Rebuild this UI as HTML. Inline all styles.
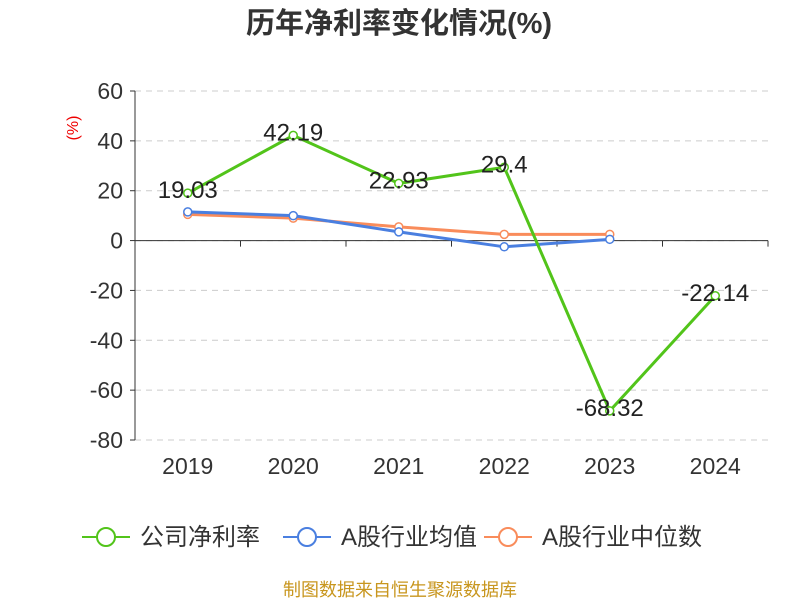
<!DOCTYPE html>
<html><head><meta charset="utf-8"><style>
body{margin:0;background:#fff;width:800px;height:600px;overflow:hidden;font-family:"Liberation Sans","Noto Sans CJK SC",sans-serif}
</style></head><body>
<svg id="c" width="800" height="600" xmlns="http://www.w3.org/2000/svg"></svg>
<script>
const categories=["2019","2020","2021","2022","2023","2024"];
const companyValues=[19.03,42.19,22.93,29.4,-68.32,-22.14];
const avgValues=[11.5,10,3.5,-2.5,0.5,null];
const medianValues=[10.5,9,5.5,2.5,2.5,null];
const yTicks=[60,40,20,0,-20,-40,-60,-80];
const companyLabels=["19.03","42.19","22.93","29.4","-68.32","-22.14"];
const svg=document.getElementById('c');const NS="http://www.w3.org/2000/svg";
const L=135,R=768,T=91,B=440;
function y(v){return T+(60-v)/140*(B-T);}
function x(i){return L+(R-L)/categories.length*(i+0.5);}
function el(t,a,p){const e=document.createElementNS(NS,t);for(const k in a)e.setAttribute(k,a[k]);(p||svg).appendChild(e);return e;}
let t=el('text',{x:399,y:33,'text-anchor':'middle','font-size':29,'font-weight':'bold',fill:'#333'});t.textContent='历年净利率变化情况(%)';

t=el('text',{x:78,y:128,'text-anchor':'middle','font-size':16,fill:'#e00',transform:'rotate(-90 78 128)'});t.textContent='(%)';

yTicks.forEach(v=>{const g=el('line',{x1:L,x2:R,y1:y(v),y2:y(v),stroke:'#ccc','stroke-dasharray':'6,5'});

el('line',{x1:L-5,x2:L,y1:y(v),y2:y(v),stroke:'#333'});
const l=el('text',{x:L-12,y:y(v)+8,'text-anchor':'end','font-size':23,fill:'#333'});l.textContent=v;
});
el('line',{x1:L,x2:L,y1:T,y2:B,stroke:'#333'});
el('line',{x1:L,x2:R,y1:y(0),y2:y(0),stroke:'#333'});
for(let i=0;i<=categories.length;i++){const xx=L+(R-L)/categories.length*i;el('line',{x1:xx,x2:xx,y1:y(0),y2:y(0)+6,stroke:'#333'});}
categories.forEach((c,i)=>{const l=el('text',{x:x(i),y:474,'text-anchor':'middle','font-size':23,fill:'#333'});l.textContent=c;
});
function series(vals,color,name){let d='';vals.forEach((v,i)=>{if(v==null)return;d+=(d?'L':'M')+x(i)+','+y(v);});
const p=el('path',{d:d,fill:'none',stroke:color,'stroke-width':3});
vals.forEach((v,i)=>{if(v==null)return;const c=el('circle',{cx:x(i),cy:y(v),r:4,fill:'#fff',stroke:color,'stroke-width':1.5});
});}
series(medianValues,'#f98c5b','median');
series(avgValues,'#4a7fe0','average');
series(companyValues,'#52c41a','company');
companyValues.forEach((v,i)=>{const l=el('text',{x:x(i),y:y(v)+5,'text-anchor':'middle','font-size':24,fill:'#222'});l.textContent=companyLabels[i];
});
const leg=[['公司净利率','#52c41a',82],['A股行业均值','#4a7fe0',283],['A股行业中位数','#f98c5b',484]];
leg.forEach(([n,c,lx])=>{const g=el('g',{});
el('line',{x1:lx,x2:lx+48,y1:537,y2:537,stroke:c,'stroke-width':2},g);
el('circle',{cx:lx+24,cy:537,r:9,fill:'#fff',stroke:c,'stroke-width':2},g);
const l=el('text',{x:lx+58,y:545,'font-size':24,fill:'#333'},g);l.textContent=n;});
t=el('text',{x:400,y:596,'text-anchor':'middle','font-size':18,fill:'#c8961e'});t.textContent='制图数据来自恒生聚源数据库';

</script></body></html>
